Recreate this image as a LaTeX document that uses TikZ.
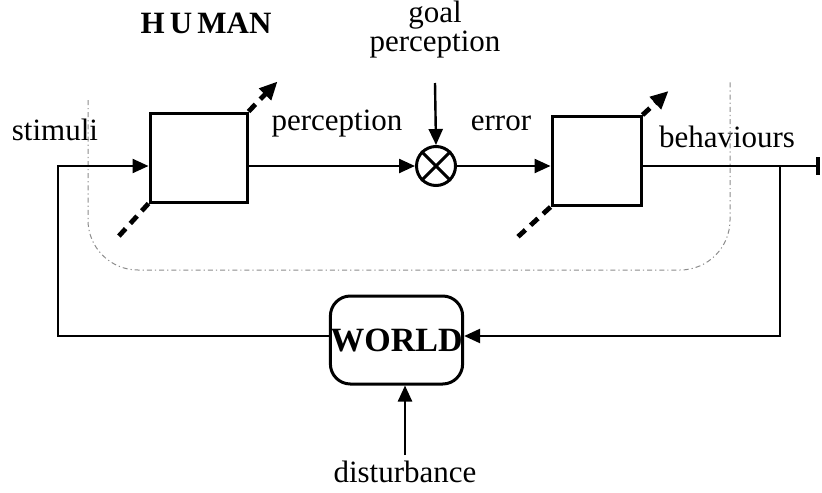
\documentclass[tikz,border=0pt]{standalone}
\usepackage{fontspec}
\setmainfont{Liberation Serif}
\usetikzlibrary{arrows.meta,calc}
\begin{document}
\begin{tikzpicture}[x=0.5pt,y=-0.5pt,
  txt/.style={font=\fontsize{15.5}{14.5}\selectfont, inner sep=1pt},
  blk/.style={draw, line width=1.5pt, minimum width=48.5pt, minimum height=44.5pt, inner sep=0pt},
  wire/.style={line width=1.2pt},
  tip/.style={-{Triangle[length=8pt,width=7pt]}},
  adapt/.style={line width=2.4pt, dash pattern=on 5pt off 3.5pt},
  adapttip/.style={adapt, -{Triangle[length=9pt,width=8pt]}},
  border/.style={gray!90, line width=0.5pt, dash pattern=on 2.5pt off 1.5pt on 0.6pt off 1.5pt, rounded corners=25pt}
]
\useasboundingbox (0,0) rectangle (822,492);

% titles and signal labels
\node[txt, font=\fontsize{15.5}{15.5}\selectfont\bfseries] (human) at (206,23) {H\,U\,MAN};
\node[txt, align=center] (goal) at (435,30) {goal\\perception};
\node[txt] (stimuli) at (55,130) {stimuli};
\node[txt] (perc) at (337,124) {perception};
\node[txt] (err) at (501,123) {error};
\node[txt] (beh) at (727,137) {behaviours};
\node[txt] (dist) at (405,472) {disturbance};

% human boundary
\draw[border] (88,100) -- (88,270) -- (730,270) -- (730,82);

% blocks
\node[blk] (box1) at (198.5,157.5) {};
\node[blk, minimum width=44.5pt] (box2) at (596.5,161) {};
\node[draw, circle, line width=1.5pt, minimum size=19.5pt, inner sep=0pt] (sum) at (436,166) {};
\draw[line width=1.5pt] (sum.north east) -- (sum.south west) (sum.north west) -- (sum.south east);
\node[draw, line width=1.5pt, rounded corners=10pt, minimum width=66pt, minimum height=44pt,
      inner sep=0pt, font=\fontsize{17}{17}\selectfont\bfseries] (world) at (396.5,340) {WORLD};

% loop coordinates
\coordinate (stim) at (58,166);
\coordinate (bl) at (58,336);
\coordinate (tap) at (780,166);
\coordinate (br) at (780,336);
\coordinate (out) at (820,166);
\coordinate (goaltop) at (435,83);
\coordinate (disttop) at (405,455);

% signal flow
\draw[wire, tip] (world.west |- bl) -- (bl) -- (stim) -- (stim -| box1.west);
\draw[wire, tip] (sum.west -| box1.east) -- (sum.west);
\draw[wire, tip] (goaltop) -- (sum.north);
\draw[wire, tip] (sum.east) -- (sum.east -| box2.west);
\draw[wire, -{Bar[width=9pt,line width=2pt]}] (sum.east -| box2.east) -- (out);
\draw[wire, tip] (tap) -- (br) -- (world.east |- br);
\draw[wire, tip] (disttop) -- (disttop |- world.south);

% adaptation arrows
\draw[adapttip] (box1.north east) -- ++(29,-30);
\draw[adapt] (box1.south west) -- ++(-30,33);
\draw[adapttip] (box2.north east) -- ++(26,-24);
\draw[adapt] (box2.south west) -- ++(-35,32);
\end{tikzpicture}
\end{document}
